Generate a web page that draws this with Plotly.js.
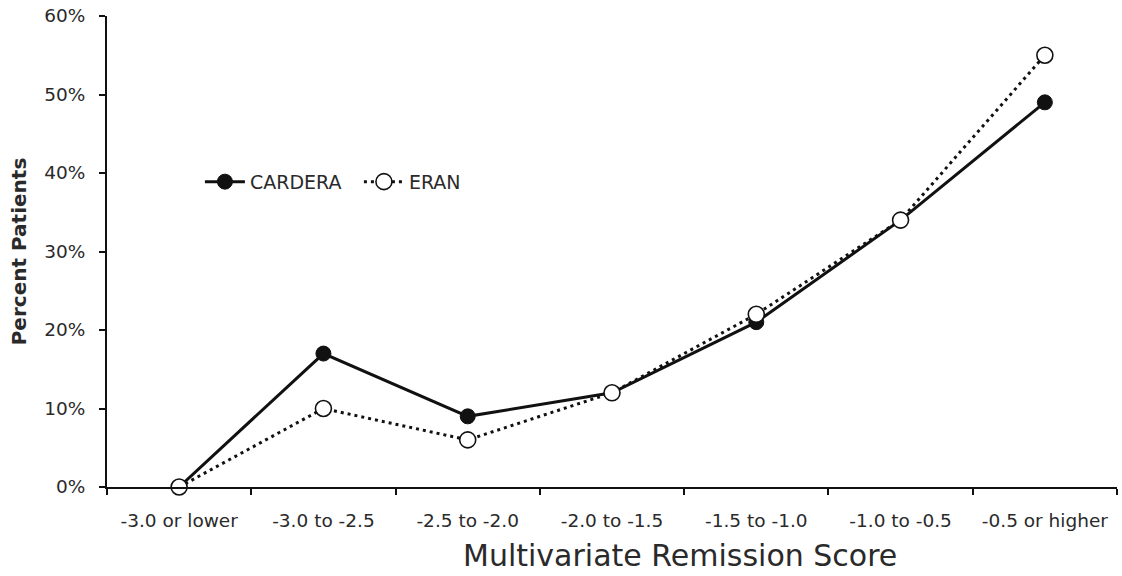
<!DOCTYPE html>
<html>
<head>
<meta charset="utf-8">
<script src="https://cdn.plot.ly/plotly-3.0.1.min.js"></script>
<style>
  html, body { margin: 0; padding: 0; background: #fff; }
  #chart { width: 1122px; height: 576px; }
</style>
</head>
<body>
<div id="chart"></div>
<script>
// Score bands on the x axis
const scoreBands = ["-3.0 or lower", "-3.0 to -2.5", "-2.5 to -2.0", "-2.0 to -1.5", "-1.5 to -1.0", "-1.0 to -0.5", "-0.5 or higher"];
// Percent of patients in remission per band
const carderaPct = [0, 17, 9, 12, 21, 34, 49];
const eranPct = [0, 10, 6, 12, 22, 34, 55];
// Y axis ticks
const yTickVals = [0, 10, 20, 30, 40, 50, 60];
const yTickText = yTickVals.map(v => v + "%");

const FONT = "DejaVu Sans, Liberation Sans, Arial, sans-serif";
const INK = "#2a2a2a";

const traces = [
  {
    name: "CARDERA",
    x: scoreBands,
    y: carderaPct,
    type: "scatter",
    mode: "lines+markers",
    line: { color: "#111", width: 3 },
    marker: { symbol: "circle", size: 15, color: "#111", line: { color: "#111", width: 1 } },
    cliponaxis: false
  },
  {
    name: "ERAN",
    x: scoreBands,
    y: eranPct,
    type: "scatter",
    mode: "lines+markers",
    line: { color: "#111", width: 3, dash: "3px,4px" },
    marker: { symbol: "circle", size: 16, color: "#fff", line: { color: "#111", width: 1.6 } },
    cliponaxis: false
  }
];

const layout = {
  width: 1122,
  height: 576,
  paper_bgcolor: "#fff",
  plot_bgcolor: "#fff",
  margin: { l: 107, r: 5, t: 16, b: 89, pad: 0 },
  font: { family: FONT, color: INK, size: 18 },
  showlegend: true,
  legend: {
    orientation: "h",
    x: 0.092,
    y: 0.648,
    xanchor: "left",
    yanchor: "middle",
    bgcolor: "rgba(0,0,0,0)",
    font: { family: FONT, size: 19, color: INK },
    entrywidth: 104,
    itemwidth: 40
  },
  xaxis: {
    type: "category",
    range: [-0.5, 6.5],
    showgrid: false,
    zeroline: false,
    showline: true,
    linecolor: "#111",
    linewidth: 2,
    ticks: "outside",
    tickson: "boundaries",
    ticklen: 6,
    tickwidth: 2,
    tickcolor: "#111",
    ticklabelstandoff: 16,
    tickfont: { family: FONT, size: 18.5, color: INK },
    fixedrange: true
  },
  yaxis: {
    range: [0, 60],
    tickvals: yTickVals,
    ticktext: yTickText,
    showgrid: false,
    zeroline: false,
    showline: true,
    linecolor: "#111",
    linewidth: 2,
    ticks: "outside",
    ticklen: 6,
    tickwidth: 2,
    tickcolor: "#111",
    ticklabelstandoff: 10,
    tickfont: { family: FONT, size: 18.5, color: INK },
    title: { text: "<b>Percent Patients</b>", font: { family: FONT, size: 20, color: INK }, standoff: 12 },
    fixedrange: true
  },
  // x axis title, set right of the plot centre
  annotations: [
    {
      text: "Multivariate Remission Score",
      xref: "paper",
      yref: "paper",
      x: 0.567,
      y: -0.1868,
      xanchor: "center",
      yanchor: "bottom",
      showarrow: false,
      font: { family: FONT, size: 30, color: INK }
    }
  ]
};

Plotly.newPlot("chart", traces, layout, { displayModeBar: false, staticPlot: true });
</script>
</body>
</html>
